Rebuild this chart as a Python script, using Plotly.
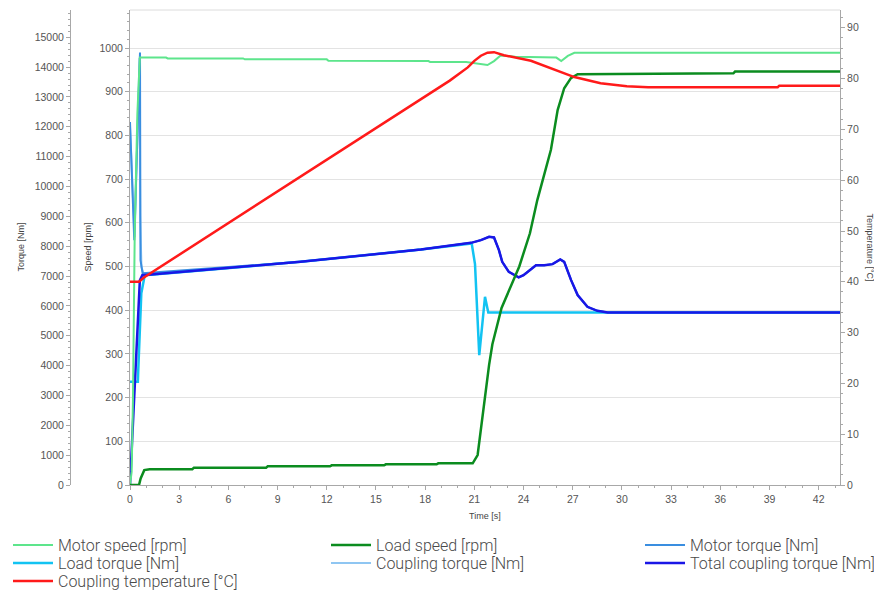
import plotly.graph_objects as go

# ---------------- data ----------------
motor_speed_t = [0, 0.1, 0.18, 0.29, 0.45, 0.6, 2.2, 2.3, 6.9, 7.0, 12.0, 12.1, 18.2, 18.3,
                 20.5, 21.2, 21.8, 22.2, 22.6, 23.5, 26.0, 26.3, 26.7, 27.1, 43.3]
motor_speed_rpm = [0, 30, 194, 583, 850, 978, 978, 976, 976, 974, 974, 971, 970, 968,
                   968, 965, 961, 970, 983, 980, 978, 970, 982, 989, 989]

load_speed_t = [0, 0.55, 0.65, 0.87, 1.2, 3.8, 3.9, 8.3, 8.4, 12.2, 12.3, 15.5, 15.6, 18.7, 18.8,
                20.9, 21.2, 21.36, 21.5, 21.7, 21.9, 22.1, 22.4, 22.66, 23.74, 24.39, 24.84,
                25.67, 26.08, 26.48, 26.89, 27.3, 36.8, 36.9, 43.3]
load_speed_rpm = [0, 0, 15, 34, 36, 36, 39.6, 39.6, 42.7, 42.7, 45, 45, 47.3, 47.3, 49.6,
                  49.6, 68.6, 118, 164, 217, 275, 322, 368, 405, 500, 576, 652,
                  767, 858, 908, 931, 940, 942, 946, 946]

motor_torque_t = [0, 0.26, 0.61, 0.64, 0.77, 10.4, 17.74, 20.8, 21.4, 21.9, 22.2, 22.5, 22.7,
                  23.1, 23.7, 24.0, 24.76, 25.26, 25.77, 26.24, 26.48, 26.9, 27.3, 27.9,
                  28.5, 29.13, 43.3]
motor_torque_nm = [12160, 8200, 14490, 7530, 7090, 7476, 7890, 8112, 8202, 8313, 8292, 7868, 7476,
                   7141, 6953, 7030, 7365, 7365, 7399, 7556, 7476, 6863, 6361, 5969,
                   5835, 5782, 5782]

load_torque_t = [0, 0.48, 0.5, 0.6, 0.69, 0.9, 10.4, 17.74, 20.84, 21.04, 21.3, 21.65, 21.85, 43.3]
load_torque_nm = [3460, 3460, 3800, 5200, 6420, 7030, 7476, 7890, 8090, 7400, 4352, 6304, 5782, 5782]

coupling_torque_t = [0, 0.28, 0.58, 0.62, 0.7, 0.85, 10.4, 17.74, 20.8, 21.4, 21.9, 22.2,
                     22.5, 22.7, 23.1, 23.7, 24.0, 24.76, 25.26, 25.77, 26.24, 26.48, 26.9,
                     27.3, 27.9, 28.5, 29.13, 43.3]
coupling_torque_nm = [12000, 8300, 14300, 9000, 7300, 7030, 7476, 7890, 8112, 8202, 8313, 8292,
                      7868, 7476, 7141, 6953, 7030, 7365, 7365, 7399, 7556, 7476, 6863,
                      6361, 5969, 5835, 5782, 5782]

total_torque_t = [0, 0.6, 0.75, 10.4, 17.74, 20.8, 21.4, 21.9, 22.2, 22.5, 22.7, 23.1, 23.7,
                  24.0, 24.76, 25.26, 25.77, 26.24, 26.48, 26.9, 27.3, 27.9, 28.5, 29.13, 43.3]
total_torque_nm = [0, 6860, 7030, 7476, 7890, 8112, 8202, 8313, 8292, 7868, 7476, 7141, 6953,
                   7030, 7365, 7365, 7399, 7556, 7476, 6863, 6361, 5969, 5835, 5782, 5782]

temp_t = [0, 0.55, 0.87, 16.52, 19.5, 20.6, 21.0, 21.4, 21.8, 22.2, 22.8, 24.45, 25.67, 27.1,
          28.7, 30.3, 31.6, 39.5, 39.6, 43.3]
temp_c = [40.0, 40.0, 40.9, 73.4, 79.6, 82.2, 83.5, 84.5, 85.1, 85.2, 84.6, 83.5, 82.0, 80.3,
          79.1, 78.5, 78.3, 78.3, 78.6, 78.6]

x_ticks = list(range(0, 43, 3))
speed_ticks = list(range(0, 1001, 100))
torque_ticks = list(range(0, 15001, 1000))
temp_ticks = list(range(0, 91, 10))

# ---------------- figure ----------------
OFF = 8                      # page body margin of the browser
W, H = 882 - OFF, 591 - OFF
ML, MR, MT, MB = 2, 42, 2, 106
PW = W - ML - MR
PH = H - MT - MB
AX_GRAY = "#a8a8a8"
TICK_FONT = dict(family="Liberation Sans", size=10.5, color="#555555")
TITLE_FONT = dict(family="Liberation Sans", size=9, color="#444444")

def px_x(p):   # screen px -> paper x
    return (p - OFF - ML) / PW

def px_y(p):   # screen px -> paper y
    return (H - MB - (p - OFF)) / PH

fig = go.Figure()

# torque traces (base axis -> drawn first)
fig.add_trace(go.Scatter(x=coupling_torque_t, y=coupling_torque_nm, mode="lines",
                         name="Coupling torque [Nm]", line=dict(color="#8fc6f2", width=2),
                         yaxis="y", legend="legend5"))
fig.add_trace(go.Scatter(x=motor_torque_t, y=motor_torque_nm, mode="lines",
                         name="Motor torque [Nm]", line=dict(color="#3a8ee0", width=2),
                         yaxis="y", legend="legend3"))
fig.add_trace(go.Scatter(x=load_torque_t, y=load_torque_nm, mode="lines",
                         name="Load torque [Nm]", line=dict(color="#12c3f2", width=2.5),
                         yaxis="y", legend="legend4"))
fig.add_trace(go.Scatter(x=total_torque_t, y=total_torque_nm, mode="lines",
                         name="Total coupling torque [Nm]", line=dict(color="#1a16e6", width=2.5),
                         yaxis="y", legend="legend6"))
# speed traces
fig.add_trace(go.Scatter(x=motor_speed_t, y=motor_speed_rpm, mode="lines",
                         name="Motor speed [rpm]", line=dict(color="#5de58c", width=2),
                         yaxis="y2", legend="legend"))
fig.add_trace(go.Scatter(x=load_speed_t, y=load_speed_rpm, mode="lines",
                         name="Load speed [rpm]", line=dict(color="#0b8c1f", width=2.5),
                         yaxis="y2", legend="legend2"))
# temperature
fig.add_trace(go.Scatter(x=temp_t, y=temp_c, mode="lines",
                         name="Coupling temperature [°C]", line=dict(color="#ff1a1a", width=2.5),
                         yaxis="y3", legend="legend7"))

common_axis = dict(showline=True, linecolor=AX_GRAY, linewidth=1, ticks="outside",
                   ticklen=4, tickcolor=AX_GRAY, tickfont=TICK_FONT, zeroline=False,
                   showgrid=False, automargin=False)

fig.update_layout(
    width=W, height=H,
    showlegend=True,
    margin=dict(l=ML, r=MR, t=MT, b=MB, autoexpand=False),
    paper_bgcolor="white", plot_bgcolor="white",
    xaxis=dict(domain=[px_x(130), 1], range=[0, 43.3], tickvals=x_ticks,
               minor=dict(dtick=1, tick0=0, ticks="outside", ticklen=2, tickcolor=AX_GRAY),
               anchor="y", **common_axis),
    yaxis=dict(range=[0, 475 / 0.02985], tickvals=torque_ticks, tickformat="d",
               anchor="free", position=px_x(70), side="left",
               minor=dict(dtick=200, tick0=0, ticks="outside", ticklen=2, tickcolor=AX_GRAY),
               **common_axis),
    yaxis2=dict(range=[0, 475 / 0.437], tickvals=speed_ticks, tickformat="d",
                overlaying="y", anchor="x", side="left", automargin=False,
                minor=dict(dtick=20, tick0=0, ticks="outside", ticklen=2, tickcolor=AX_GRAY),
                showline=True, linecolor=AX_GRAY, linewidth=1, ticks="outside",
                ticklen=4, tickcolor=AX_GRAY, tickfont=TICK_FONT, zeroline=False,
                showgrid=True, gridcolor="#e3e3e3", gridwidth=1),
    yaxis3=dict(range=[0, 475 / 5.08], tickvals=temp_ticks, tickformat="d",
                overlaying="y", anchor="x", side="right",
                minor=dict(dtick=2, tick0=0, ticks="outside", ticklen=2, tickcolor=AX_GRAY),
                **common_axis),
    shapes=[dict(type="line", xref="paper", yref="paper", x0=px_x(130), x1=1,
                 y0=1, y1=1, line=dict(color="#dcdcdc", width=1))],
    annotations=[
        dict(text="Torque [Nm]", xref="paper", yref="paper", x=px_x(20), y=0.5,
             xanchor="center", yanchor="middle",
             textangle=-90, showarrow=False, font=TITLE_FONT),
        dict(text="Speed [rpm]", xref="paper", yref="paper", x=px_x(87), y=0.5,
             xanchor="center", yanchor="middle",
             textangle=-90, showarrow=False, font=TITLE_FONT),
        dict(text="Temperature [°C]", xref="paper", yref="paper", x=px_x(870), y=0.5,
             xanchor="center", yanchor="middle",
             textangle=90, showarrow=False, font=TITLE_FONT),
        dict(text="Time [s]", xref="paper", yref="paper", x=px_x(485), y=px_y(516),
             xanchor="center", yanchor="middle", showarrow=False, font=TITLE_FONT),
    ],
)

LEG_FONT = dict(family="Roboto", size=16, color="#4a4a4a", weight=300)
# (screen x where the legend line starts, screen y of the row centre)
legend_pos = {
    "legend": (12, 545), "legend2": (330, 545), "legend3": (644, 545),
    "legend4": (12, 563), "legend5": (330, 563), "legend6": (644, 563),
    "legend7": (12, 581),
}
for key, (sx, sy) in legend_pos.items():
    lx = max(0, sx - OFF - 4)
    ly = sy - OFF
    fig.update_layout({key: dict(xref="container", yref="container", x=lx / W, y=1 - ly / H,
                                 xanchor="left", yanchor="middle", orientation="v",
                                 bgcolor="rgba(0,0,0,0)", borderwidth=0, itemwidth=40,
                                 font=LEG_FONT, visible=True)})

fig.write_html("out.html")
